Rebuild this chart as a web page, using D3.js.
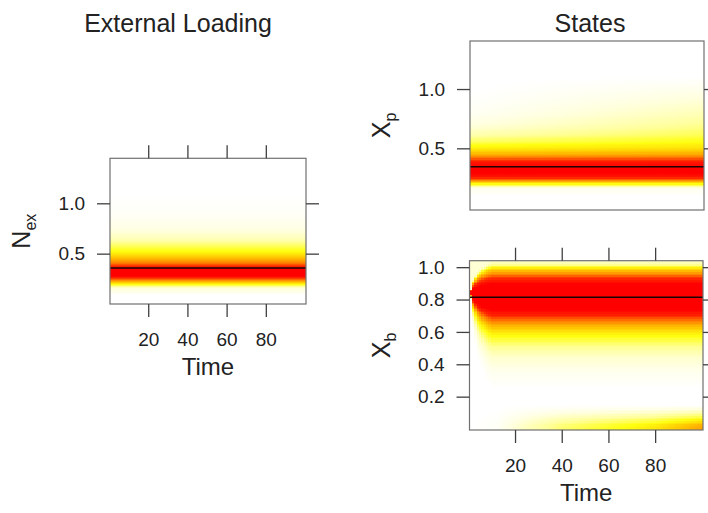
<!DOCTYPE html>
<html><head><meta charset="utf-8">
<script src="https://cdn.jsdelivr.net/npm/d3@7"></script>
<style>body{margin:0;background:#fff} svg{display:block}</style>
</head><body><svg id="c" width="708" height="513"></svg>
<script>
// ---------- data ----------
const timeSteps = d3.range(1, 101);
const timeTicks = [20, 40, 60, 80];
const nexTicks = [0.5, 1.0];
const xpTicks = [0.5, 1.0];
const xbTicks = [0.2, 0.4, 0.6, 0.8, 1.0];

// N_ex : vertical density profile (constant over time)
const nexLevels  = [0.10, 0.16, 0.19, 0.22, 0.25, 0.28, 0.35, 0.38, 0.42, 0.47, 0.52, 0.58, 0.65, 0.75, 0.90, 1.10];
const nexDensity = [0.00, 0.10, 0.35, 0.60, 0.85, 1.00, 1.00, 0.90, 0.72, 0.56, 0.42, 0.30, 0.16, 0.07, 0.02, 0.00];
const nexMean = 0.358;

// X_p : profile at start and end of the run (upper tail grows with time)
const xpLevels       = [0.10, 0.17, 0.20, 0.23, 0.26, 0.30, 0.35, 0.40, 0.44, 0.48, 0.52, 0.56, 0.62, 0.70, 0.80, 0.90, 1.00, 1.10];
const xpDensityEarly = [0.00, 0.05, 0.35, 0.70, 0.95, 1.00, 1.00, 0.92, 0.70, 0.52, 0.42, 0.30, 0.18, 0.08, 0.03, 0.01, 0.00, 0.00];
const xpDensityLate  = [0.00, 0.05, 0.35, 0.70, 0.95, 1.00, 1.00, 0.92, 0.72, 0.56, 0.47, 0.40, 0.31, 0.23, 0.16, 0.10, 0.05, 0.00];
const xpMean = 0.345;

// X_b : steady profile, early narrowing, and low band growing with time
const xbLevels  = [0.25, 0.35, 0.45, 0.52, 0.57, 0.61, 0.64, 0.67, 0.70, 0.74, 0.90, 0.94, 0.97, 1.00, 1.02, 1.04];
const xbDensity = [0.00, 0.04, 0.12, 0.25, 0.38, 0.50, 0.62, 0.76, 0.90, 1.00, 1.00, 0.88, 0.68, 0.45, 0.22, 0.10];
const xbCentre = 0.85;
const xbSpreadTimes = [1, 2, 3, 4, 6, 8, 10, 100];
const xbSpread      = [0.10, 0.40, 0.55, 0.68, 0.82, 0.92, 1.00, 1.00];
const xbLowTimes    = [1, 12, 25, 40, 60, 80, 100];
const xbLowStrength = [0, 0.02, 0.15, 0.28, 0.38, 0.48, 0.68];
const xbLowLevels   = [0.00, 0.03, 0.06, 0.10, 0.15];
const xbLowShape    = [1.00, 0.92, 0.65, 0.28, 0.00];
const xbMean = 0.814;

// colour ramp (heat colours)
const heatStops  = [0, 0.08, 0.22, 0.40, 0.58, 0.78, 0.92, 1];
const heatColors = ["#ffffff", "#ffffe0", "#ffff99", "#ffff10", "#ffc400", "#ff7a00", "#ff2000", "#ff0000"];

// ---------- drawing ----------
const svg = d3.select("#c");
const font = "'Liberation Sans', Arial, Helvetica, sans-serif";
const heat = d3.scaleLinear().domain(heatStops).range(heatColors).clamp(true);

const nexProfile = d3.scaleLinear().domain(nexLevels).range(nexDensity).clamp(true);
const xpEarly = d3.scaleLinear().domain(xpLevels).range(xpDensityEarly).clamp(true);
const xpLate  = d3.scaleLinear().domain(xpLevels).range(xpDensityLate).clamp(true);
const xbProfile = d3.scaleLinear().domain(xbLevels).range(xbDensity).clamp(true);
const xbSpreadAt = d3.scaleLinear().domain(xbSpreadTimes).range(xbSpread).clamp(true);
const xbLowAt = d3.scaleLinear().domain(xbLowTimes).range(xbLowStrength).clamp(true);
const xbLowProfile = d3.scaleLinear().domain(xbLowLevels).range(xbLowShape).clamp(true);

const panels = [
  { id: "nex", box: [110, 306, 158.3, 304], yDomain: [0, 1.447], ticks: nexTicks,
    density: (t, v) => nexProfile(v), mean: nexMean,
    label: ["N", "ex"], topTicks: true, bottom: true },
  { id: "xp", box: [470, 704, 41, 210], yDomain: [-0.02, 1.405], ticks: xpTicks,
    density: (t, v) => { const w = (t - 1) / 99; return (1 - w) * xpEarly(v) + w * xpLate(v); },
    mean: xpMean, label: ["X", "p"], topTicks: false, bottom: false },
  { id: "xb", box: [469.5, 703, 260.7, 430], yDomain: [-0.006, 1.04], ticks: xbTicks,
    density: (t, v) => {
      const s = xbSpreadAt(t);
      const main = xbProfile(xbCentre + (v - xbCentre) / s);
      const low = xbLowAt(t) * xbLowProfile(v);
      return Math.max(main, low);
    },
    mean: xbMean, label: ["X", "b"], topTicks: true, bottom: true }
];

const step = 0.01;
panels.forEach(p => {
  const [x0, x1, y0, y1] = p.box;
  const x = d3.scaleLinear().domain([0.5, 100.5]).range([x0, x1]);
  const y = d3.scaleLinear().domain(p.yDomain).range([y1, y0]);
  const g = svg.append("g");
  const clipId = "clip-" + p.id;
  svg.append("clipPath").attr("id", clipId).append("rect")
    .attr("x", x0).attr("y", y0).attr("width", x1 - x0).attr("height", y1 - y0);

  const cells = [];
  const nb = Math.ceil((p.yDomain[1] - p.yDomain[0]) / step);
  timeSteps.forEach(t => {
    for (let i = 0; i < nb; i++) {
      const lo = p.yDomain[0] + i * step;
      const v = lo + step / 2;
      const d = p.density(t, v);
      if (d > 0.004) cells.push({ t, lo, d });
    }
  });
  g.append("g").attr("clip-path", `url(#${clipId})`).attr("shape-rendering", "crispEdges")
    .selectAll("rect").data(cells).join("rect")
    .attr("x", d => x(d.t - 0.5)).attr("width", d => x(d.t + 0.5) - x(d.t - 0.5) + 0.6)
    .attr("y", d => y(d.lo + step)).attr("height", d => y(d.lo) - y(d.lo + step) + 0.6)
    .attr("fill", d => heat(d.d));

  // mean line
  g.append("line").attr("x1", x0).attr("x2", x1).attr("y1", y(p.mean)).attr("y2", y(p.mean))
    .attr("stroke", "#1a0505").attr("stroke-width", 1.6);

  // box
  g.append("rect").attr("x", x0).attr("y", y0).attr("width", x1 - x0).attr("height", y1 - y0)
    .attr("fill", "none").attr("stroke", "#707070").attr("stroke-width", 1.2);

  const tickStyle = sel => {
    sel.select(".domain").remove();
    sel.selectAll(".tick line").attr("stroke", "#404040").attr("stroke-width", 1.3);
    sel.selectAll(".tick text").attr("fill", "#222").style("font-family", font).style("font-size", "19px");
  };
  // left axis with labels
  g.append("g").attr("transform", `translate(${x0},0)`)
    .call(d3.axisLeft(y).tickValues(p.ticks).tickFormat(d3.format(".1f")).tickSize(13).tickPadding(12))
    .call(tickStyle);
  // right axis ticks only
  g.append("g").attr("transform", `translate(${x1},0)`)
    .call(d3.axisRight(y).tickValues(p.ticks).tickFormat("").tickSize(13))
    .call(tickStyle);
  if (p.topTicks) {
    g.append("g").attr("transform", `translate(0,${y0})`)
      .call(d3.axisTop(x).tickValues(timeTicks).tickFormat("").tickSize(13))
      .call(tickStyle);
  }
  if (p.bottom) {
    g.append("g").attr("transform", `translate(0,${y1})`)
      .call(d3.axisBottom(x).tickValues(timeTicks).tickSize(13).tickPadding(16))
      .call(tickStyle);
    g.append("text").attr("x", (x0 + x1) / 2).attr("y", y1 + 71).attr("text-anchor", "middle")
      .style("font-family", font).style("font-size", "24px").attr("fill", "#222").text("Time");
  }
  // y label (rotated with subscript)
  const yl = g.append("text").attr("transform", `translate(${x0 - 80},${(y0 + y1) / 2}) rotate(-90)`)
    .attr("text-anchor", "middle").style("font-family", font).attr("fill", "#222");
  yl.append("tspan").style("font-size", "25px").text(p.label[0]);
  yl.append("tspan").style("font-size", "16px").attr("dy", 6).text(p.label[1]);
});

// titles
svg.append("text").attr("x", 178).attr("y", 32).attr("text-anchor", "middle")
  .style("font-family", font).style("font-size", "25px").attr("fill", "#222").text("External Loading");
svg.append("text").attr("x", 590).attr("y", 32).attr("text-anchor", "middle")
  .style("font-family", font).style("font-size", "25px").attr("fill", "#222").text("States");
</script>
</body></html>
